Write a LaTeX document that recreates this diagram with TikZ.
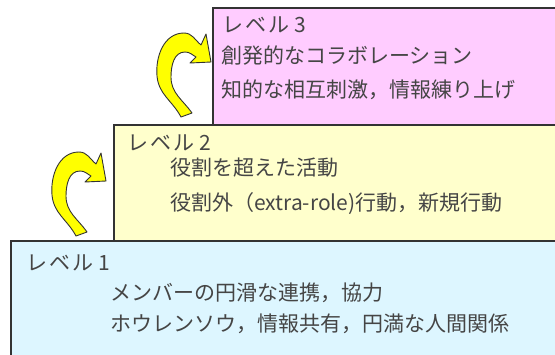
\documentclass[tikz,border=0pt]{standalone}
\usepackage{fontspec}
\newfontfamily\jp{Noto Sans CJK JP}
\definecolor{pinkbox}{HTML}{FFCCFF}
\definecolor{yellowbox}{HTML}{FFFFCC}
\definecolor{bluebox}{HTML}{DDF6FF}
\definecolor{txt}{HTML}{454545}
\definecolor{edge}{HTML}{333333}
\definecolor{arrowfill}{HTML}{FFFF00}
\tikzset{
  levelbox/.style={draw=edge,line width=1.3pt},
  lbl/.style={anchor=west,inner sep=0pt,font=\jp\fontsize{21}{25}\selectfont,text=txt,text height=18.5pt,text depth=2.5pt},
  curvy/.style={fill=arrowfill,draw=edge,line width=0.9pt,line join=round},
  curvedarrow/.pic={
    \draw[curvy] (24,83) to[out=118,in=-85] (0,42)
      to[out=95,in=180] (27,-1)
      to[out=0,in=140] (44,11)
      -- (49,0) -- (54,28) -- (33,29) -- (39,23)
      to[out=150,in=0] (28,18)
      to[out=180,in=90] (14,43)
      to[out=-90,in=125] (35,79) -- cycle;
  }
}
\newcommand{\lvl}[1]{レ\hspace{2pt}ベ\hspace{2pt}ル\hspace{5pt}#1}
\begin{document}
\begin{tikzpicture}[x=1pt,y=-1pt]
\useasboundingbox (0,0) rectangle (555,354);
\clip (0,0) rectangle (555,354);
\fill[white] (0,0) rectangle (555,354);
\draw[levelbox,fill=pinkbox] (213,8) rectangle (570,125);
\draw[levelbox,fill=yellowbox] (114,125) rectangle (570,241);
\draw[levelbox,fill=bluebox] (11,241) rectangle (570,370);
\node[lbl] (l3) at (222,24) {\lvl{3}};
\node[lbl] (l3a) at (221,55) {創発的なコラボレーション};
\node[lbl] (l3b) at (221,89) {知的な相互刺激，情報練り上げ};
\node[lbl] (l2) at (127,142) {\lvl{2}};
\node[lbl] (l2a) at (170,167) {役割を超えた活動};
\node[lbl] (l2b) at (170,202) {役割外（extra-role)行動，新規行動};
\node[lbl] (l1) at (26,262) {\lvl{1}};
\node[lbl] (l1a) at (110,292) {メンバーの円滑な連携，協力};
\node[lbl] (l1b) at (110,323) {ホウレンソウ，情報共有，円満な人間関係};
\pic (arrowA) at (157,34) {curvedarrow};
\pic (arrowB) at (52,153) {curvedarrow};
\end{tikzpicture}
\end{document}
